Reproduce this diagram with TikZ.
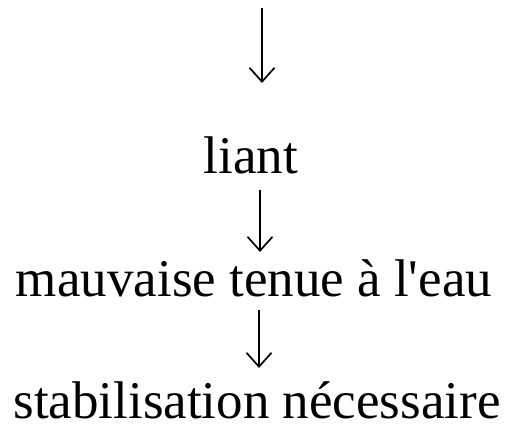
\documentclass[tikz,border=0pt]{standalone}
\usepackage{fontspec}
\setmainfont{Liberation Serif}
\usetikzlibrary{arrows.meta}
\begin{document}
\begin{tikzpicture}[x=1pt,y=-1pt,
  label text/.style={anchor=base,inner sep=0pt,font=\fontsize{53}{60}\selectfont},
  arr/.style={line width=1.7pt,-{Straight Barb[length=14pt,width=25pt,line width=1.7pt]}}]
  \useasboundingbox (0,0) rectangle (505,423);
  \node[label text] (liant) at (251,173) {liant};
  \node[label text] (mauv) at (254,296) {mauvaise tenue à l\textquotesingle eau};
  \node[label text] (stab) at (257,418) {stabilisation nécessaire};
  \coordinate (top) at (262,8);
  \draw[arr] (top) -- ([shift={(11,-90)}]liant.base);
  \draw[arr] ([shift={(9,17)}]liant.base) -- ([shift={(6,-44)}]mauv.base);
  \draw[arr] ([shift={(5,14)}]mauv.base) -- ([shift={(2,-50)}]stab.base);
\end{tikzpicture}
\end{document}
